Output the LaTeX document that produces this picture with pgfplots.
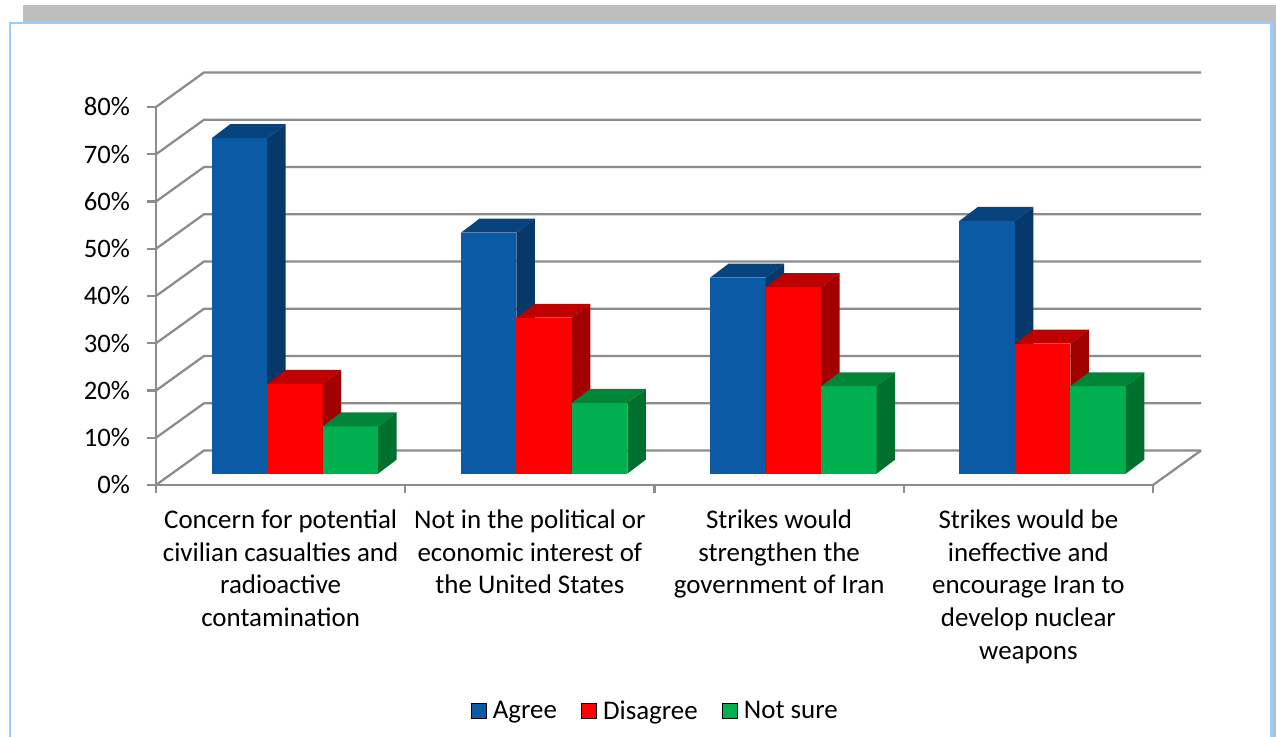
\documentclass[border=0pt]{standalone}
\usepackage{fontspec}
\setmainfont{Carlito}
\usepackage{pgfplots}
\pgfplotsset{compat=1.18}

\definecolor{gridgray}{HTML}{8C8C8C}
\definecolor{framegray}{HTML}{BEBEBE}
\definecolor{frameblue}{HTML}{99CCFF}
\definecolor{blueF}{HTML}{0B5AA5}
\definecolor{blueT}{HTML}{07437C}
\definecolor{blueS}{HTML}{06396A}
\definecolor{redF}{HTML}{FF0000}
\definecolor{redT}{HTML}{BF0000}
\definecolor{redS}{HTML}{A00000}
\definecolor{greenF}{HTML}{00B050}
\definecolor{greenT}{HTML}{008438}
\definecolor{greenS}{HTML}{00702F}

% bar depth in data units
\newcommand{\ddx}{0.0742}
\newcommand{\ddy}{2.96}
% left edge, right edge, value, colours of front, top and side
\newcommand{\barbox}[6]{%
  \pgfmathsetmacro{\xa}{#1+\ddx}%
  \pgfmathsetmacro{\xb}{#2+\ddx}%
  \pgfmathsetmacro{\ya}{#3+\ddy}%
  \addplot[forget plot, draw=none, fill=#4, yshift=8.5pt] coordinates {(#1,0) (#2,0) (#2,#3) (#1,#3)} --cycle;
  \addplot[forget plot, draw=none, fill=#5, yshift=8.5pt] coordinates {(#1,#3) (#2,#3) (\xb,\ya) (\xa,\ya)} --cycle;
  \addplot[forget plot, draw=none, fill=#6, yshift=8.5pt] coordinates {(#2,0) (\xb,\ddy) (\xb,\ya) (#2,#3)} --cycle;
}
\newcommand{\wall}[2]{%
  \addplot[forget plot, gridgray, line width=1.7pt] coordinates {(0,#1) (0.1926,#2) (4.1926,#2)};
}

\begin{document}
\begin{tikzpicture}
\path[use as bounding box] (0,0) rectangle (957pt,552.75pt);
\fill[framegray] (17.25pt,-5pt) rectangle (957pt,549pt);
\draw[frameblue, line width=2.2pt, fill=white] (7.5pt,-10pt) rectangle (953.5pt,535.5pt);

\begin{axis}[
  at={(117pt,189pt)}, anchor=south west,
  scale only axis, width=747.75pt, height=283.5pt,
  clip=false,
  xmin=0, xmax=4, ymin=0, ymax=80,
  axis x line=bottom, axis y line=left,
  axis line style={-, gridgray, line width=1.7pt},
  tick style={gridgray, line width=1.7pt},
  major tick length=0pt,
  xtick={0.5,1.5,2.5,3.5},
  xticklabels={
    {Concern for potential\\civilian casualties and\\radioactive\\contamination},
    {Not in the political or\\economic interest of\\the United States},
    {Strikes would\\strengthen the\\government of Iran},
    {Strikes would be\\ineffective and\\encourage Iran to\\develop nuclear\\weapons}},
  extra x ticks={0,1,2,3,4},
  extra x tick labels={},
  extra x tick style={major tick length=6pt, tick align=outside},
  x tick label style={align=center, font=\fontsize{20.2}{24.5}\selectfont, yshift=-15pt},
  ytick={0,10,20,30,40,50,60,70,80},
  yticklabels={0\%,10\%,20\%,30\%,40\%,50\%,60\%,70\%,80\%},
  extra y ticks={0,10,20,30,40,50,60,70,80},
  extra y tick labels={},
  extra y tick style={major tick length=6.5pt, tick align=outside},
  y tick label style={font=\fontsize{20}{24}\selectfont, xshift=-16pt},
  legend style={
    at={(axis description cs:0.501,-0.598)}, anchor=center,
    draw=none, fill=none, legend columns=3,
    font=\fontsize{20.2}{24}\selectfont,
    /tikz/every even column/.append style={column sep=16pt}},
  legend cell align=left,
  legend image code/.code={\fill[#1] (0pt,-5.6pt) rectangle (11.25pt,5.6pt);},
]

% back wall and floor
\wall{0}{7.3}
\wall{10}{17.3}
\wall{20}{27.3}
\wall{30}{37.3}
\wall{40}{47.3}
\wall{50}{57.3}
\wall{60}{67.3}
\wall{70}{77.3}
\wall{80}{87.3}
\addplot[forget plot, gridgray, line width=1.7pt] coordinates {(4,0) (4.1926,7.3)};

% Concern for potential civilian casualties
\barbox{0.2235}{0.4460}{71}{blueF}{blueT}{blueS}
\barbox{0.4460}{0.6685}{19}{redF}{redT}{redS}
\barbox{0.6685}{0.8910}{10}{greenF}{greenT}{greenS}
% Not in the political or economic interest
\barbox{1.2235}{1.4460}{51}{blueF}{blueT}{blueS}
\barbox{1.4460}{1.6685}{33}{redF}{redT}{redS}
\barbox{1.6685}{1.8910}{15}{greenF}{greenT}{greenS}
% Strikes would strengthen the government
\barbox{2.2235}{2.4460}{41.5}{blueF}{blueT}{blueS}
\barbox{2.4460}{2.6685}{39.5}{redF}{redT}{redS}
\barbox{2.6685}{2.8910}{18.5}{greenF}{greenT}{greenS}
% Strikes would be ineffective
\barbox{3.2235}{3.4460}{53.5}{blueF}{blueT}{blueS}
\barbox{3.4460}{3.6685}{27.5}{redF}{redT}{redS}
\barbox{3.6685}{3.8910}{18.5}{greenF}{greenT}{greenS}

\addlegendimage{fill=blueF}
\addlegendentry{\hspace*{3pt}Agree}
\addlegendimage{fill=redF}
\addlegendentry{\hspace*{3pt}Disagree}
\addlegendimage{fill=greenF}
\addlegendentry{\hspace*{3pt}Not sure}
\end{axis}
\end{tikzpicture}
\end{document}
